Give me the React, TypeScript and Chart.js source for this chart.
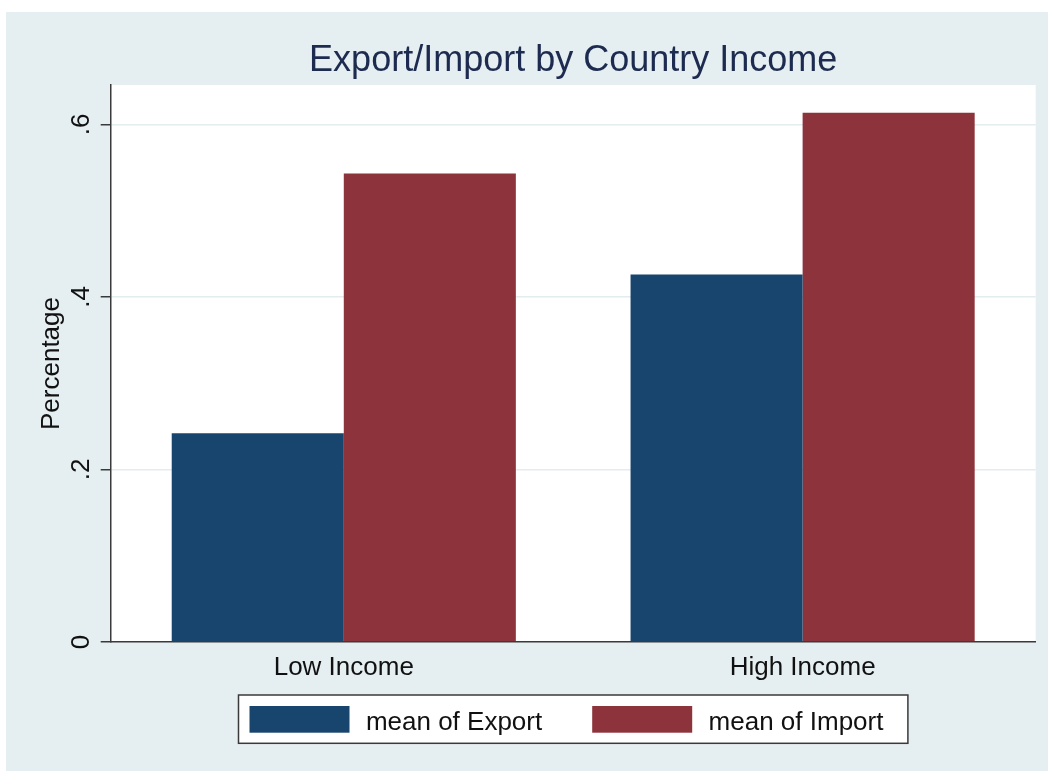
import React, { useEffect, useRef } from 'react';
import { Chart, registerables } from 'chart.js';

Chart.register(...registerables);

// ---- data ----
const categories = ['Low Income', 'High Income'];
const seriesLabels = ['mean of Export', 'mean of Import'];
const exportMeans = [0.242, 0.426];
const importMeans = [0.543, 0.6135];
const yTickValues = [0, 0.2, 0.4, 0.6];
const yTickLabels = ['0', '.2', '.4', '.6'];
const chartTitle = 'Export/Import by Country Income';
const yAxisTitle = 'Percentage';

// ---- style ----
const FONT = '"Liberation Sans", Arial, Helvetica, sans-serif';
const BG = '#E5EEF0';
const GRID = '#E3ECEF';
const AXIS = '#3a3a3a';
const TEXT = '#111111';
const TITLE_COLOR = '#1c2b4f';
const EXPORT_COLOR = '#18456d';
const IMPORT_COLOR = '#8d333b';

export default function App() {
  const ref = useRef<HTMLCanvasElement>(null);

  useEffect(() => {
    const canvas = ref.current;
    if (!canvas) return;

    const decor = {
      id: 'decor',
      beforeDraw(chart: any) {
        const { ctx, width, height, chartArea } = chart;
        ctx.save();
        ctx.fillStyle = '#ffffff';
        ctx.fillRect(0, 0, width, height);
        ctx.fillStyle = BG;
        ctx.fillRect(6, 12, width - 6, height - 12);
        ctx.fillStyle = '#ffffff';
        ctx.fillRect(chartArea.left, chartArea.top, chartArea.right - chartArea.left, chartArea.bottom - chartArea.top);
        ctx.restore();
      },
      afterDraw(chart: any) {
        const { ctx, chartArea } = chart;
        const xs = chart.scales.x;
        const ys = chart.scales.y;
        const cx = (chartArea.left + chartArea.right) / 2;
        const cy = (chartArea.top + chartArea.bottom) / 2;
        ctx.save();

        // title
        ctx.fillStyle = TITLE_COLOR;
        ctx.font = `36px ${FONT}`;
        ctx.textAlign = 'center';
        ctx.textBaseline = 'alphabetic';
        ctx.fillText(chartTitle, cx, 71);

        // x category labels
        ctx.fillStyle = TEXT;
        ctx.font = `26px ${FONT}`;
        categories.forEach((c, i) => {
          ctx.fillText(c, xs.getPixelForValue(i), chartArea.bottom + 33);
        });

        // y tick labels (rotated)
        yTickValues.forEach((v, i) => {
          const py = ys.getPixelForValue(v);
          ctx.save();
          ctx.translate(chartArea.left - 21.4, py);
          ctx.rotate(-Math.PI / 2);
          ctx.textAlign = 'center';
          ctx.fillText(yTickLabels[i], 0, 0);
          ctx.restore();
        });

        // y title
        ctx.save();
        ctx.translate(59.3, cy);
        ctx.rotate(-Math.PI / 2);
        ctx.textAlign = 'center';
        ctx.fillText(yAxisTitle, 0, 0);
        ctx.restore();

        // legend
        const lw = 669.4;
        const lh = 48.3;
        const lx = cx - lw / 2;
        const ly = 695;
        ctx.fillStyle = '#ffffff';
        ctx.fillRect(lx, ly, lw, lh);
        ctx.strokeStyle = AXIS;
        ctx.lineWidth = 1.5;
        ctx.strokeRect(lx, ly, lw, lh);
        const itemOffsets = [11, 353.7];
        chart.data.datasets.forEach((ds: any, i: number) => {
          const sx = lx + itemOffsets[i];
          ctx.fillStyle = ds.backgroundColor;
          ctx.fillRect(sx, ly + 11, 100, 26.7);
          ctx.fillStyle = TEXT;
          ctx.textAlign = 'left';
          ctx.fillText(ds.label, sx + 116.4, ly + 35);
        });

        ctx.restore();
      },
    };

    const chart = new Chart(canvas, {
      type: 'bar',
      data: {
        datasets: [
          {
            label: seriesLabels[0],
            data: exportMeans.map((v, i) => ({ x: i, y: v })),
            backgroundColor: EXPORT_COLOR,
            borderWidth: 0,
          },
          {
            label: seriesLabels[1],
            data: importMeans.map((v, i) => ({ x: i, y: v })),
            backgroundColor: IMPORT_COLOR,
            borderWidth: 0,
          },
        ],
      },
      options: {
        responsive: false,
        animation: false,
        events: [],
        layout: { padding: { left: 100.7, top: 85, right: 12.3, bottom: 129 } },
        datasets: { bar: { barPercentage: 1, categoryPercentage: 0.75 } },
        plugins: {
          legend: { display: false },
          title: { display: false },
          tooltip: { enabled: false },
        },
        scales: {
          x: {
            type: 'linear',
            offset: false,
            min: -0.508,
            max: 1.508,
            ticks: { display: false, stepSize: 1, includeBounds: false },
            grid: { display: false, drawTicks: false, offset: false },
            border: { display: true, color: AXIS, width: 1.5, z: 1 },
          },
          y: {
            type: 'linear',
            min: 0,
            max: 0.6456,
            ticks: { display: false, stepSize: 0.2, includeBounds: false },
            grid: {
              color: GRID,
              lineWidth: 1.5,
              drawTicks: true,
              tickLength: 10,
              tickColor: AXIS,
              tickWidth: 1.5,
            },
            border: { display: true, color: AXIS, width: 1.5, z: 1 },
          },
        },
      },
      plugins: [decor],
    } as any);

    return () => chart.destroy();
  }, []);

  return (
    <div style={{ position: 'absolute', left: 0, top: 0, width: 1048, height: 771 }}>
      <canvas ref={ref} width={1048} height={771} style={{ display: 'block', width: 1048, height: 771 }} />
    </div>
  );
}
